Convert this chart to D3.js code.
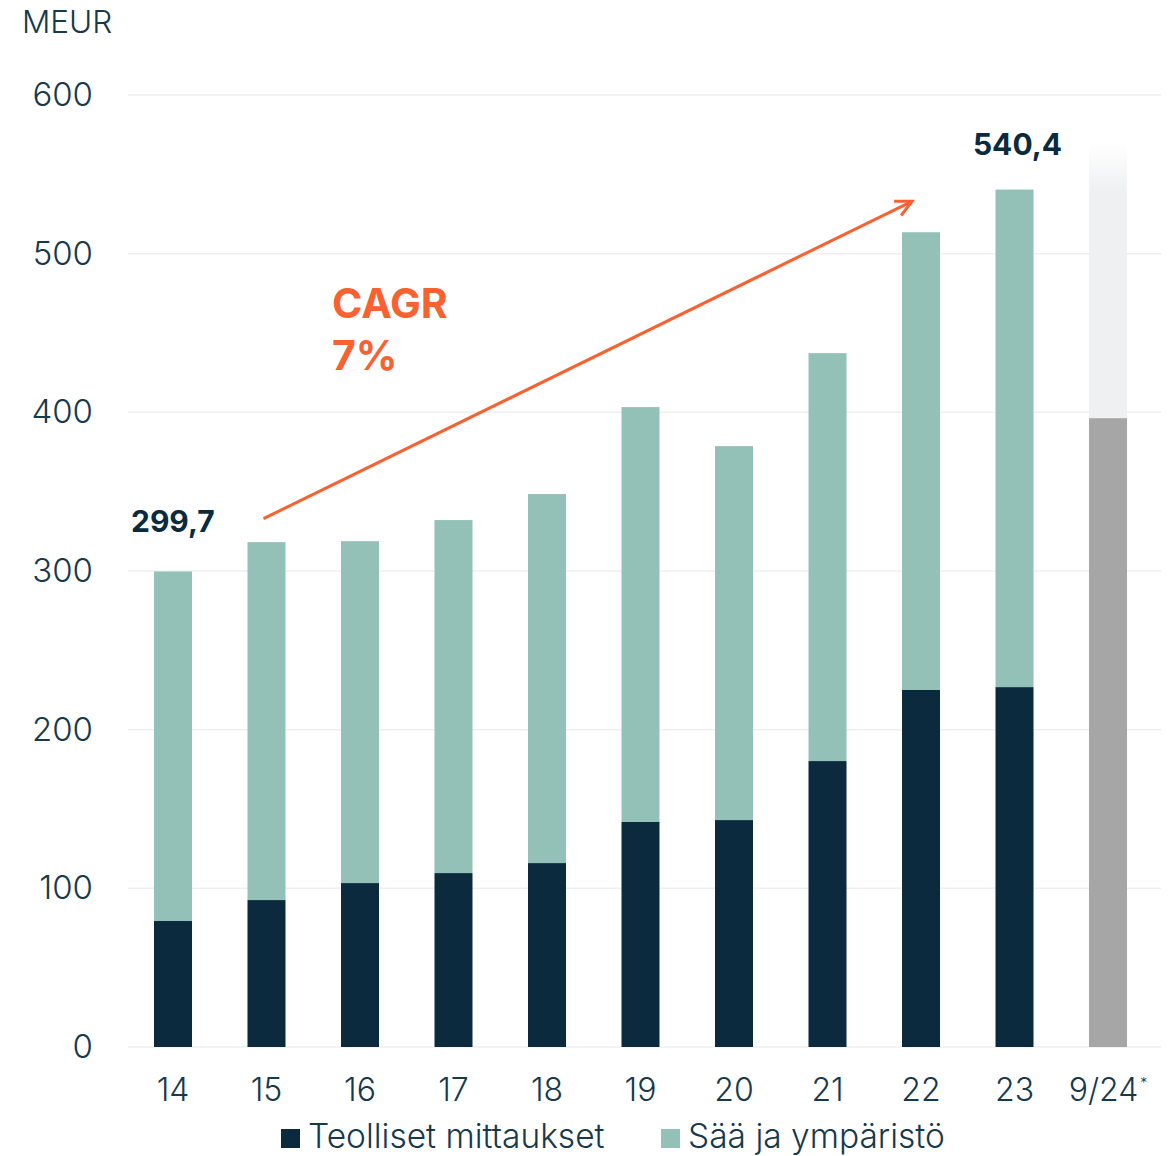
<!DOCTYPE html>
<html>
<head>
<meta charset="utf-8">
<script src="https://cdn.jsdelivr.net/npm/d3@7"></script>
<style>
  body { margin: 0; background: #fff; }
  text { font-family: Inter, "Noto Sans", sans-serif; }
</style>
</head>
<body>
<div id="chart"></div>
<script>
// data
var years = ["14", "15", "16", "17", "18", "19", "20", "21", "22", "23", "9/24"];
var teolliset = [79.4, 92.6, 103.3, 109.6, 115.9, 141.8, 143.0, 180.2, 225.0, 226.8];
var totals = [299.7, 318.2, 318.8, 332.1, 348.5, 403.3, 378.7, 437.3, 513.5, 540.4];
var ytd = 396.3;          // 9/24 bar
var ytdShadow = 570;      // faded outline behind 9/24
var yTicks = [0, 100, 200, 300, 400, 500, 600];
var legendNames = ["Teolliset mittaukset", "Sää ja ympäristö"];

var svgWidth = 1173;
var svgHeight = 1156;
var margin = { top: 95, right: 18, bottom: 109, left: 128 };
var width = svgWidth - margin.left - margin.right;
var height = svgHeight - margin.top - margin.bottom;

var dark = "#0b2a3d", teal = "#93c1b8", grey = "#a6a6a6", orange = "#fa6131";

var svg = d3.select("#chart").append("svg")
  .attr("width", svgWidth)
  .attr("height", svgHeight);

var defs = svg.append("defs");
var grad = defs.append("linearGradient").attr("id", "fade")
  .attr("x1", 0).attr("y1", 0).attr("x2", 0).attr("y2", 1);
grad.append("stop").attr("offset", "0%").attr("stop-color", "#eff0f2").attr("stop-opacity", 0);
grad.append("stop").attr("offset", "18%").attr("stop-color", "#eff0f2").attr("stop-opacity", 1);
grad.append("stop").attr("offset", "100%").attr("stop-color", "#eff0f2").attr("stop-opacity", 1);

var chart = svg.append("g")
  .attr("transform", `translate(${margin.left}, ${margin.top})`);

var x = d3.scaleBand().domain(years).range([0, 1025]).paddingInner(0.5936).paddingOuter(0.278);
var y = d3.scaleLinear().domain([0, 600]).range([height, 0]);

// gridlines
chart.append("g").selectAll("line")
  .data(yTicks).enter().append("line")
  .attr("x1", 0).attr("x2", width + 6)
  .attr("y1", d => y(d)).attr("y2", d => y(d))
  .attr("stroke", "#efefef").attr("stroke-width", 1.5);

// y axis
var leftAxis = d3.axisLeft(y).tickValues(yTicks).tickSize(0).tickPadding(35);
var ya = chart.append("g").call(leftAxis);
ya.select(".domain").remove();
ya.selectAll("text").attr("font-size", 33).attr("font-weight", 300).attr("fill", "#16394b")
  .style("font-family", "Inter, sans-serif");

chart.append("text")
  .attr("x", 22 - margin.left).attr("y", 33 - margin.top)
  .attr("font-size", 31.5).attr("font-weight", 300).attr("fill", "#16394b")
  .text("MEUR");

// x axis
var bottomAxis = d3.axisBottom(x).tickSize(0).tickPadding(31);
var xa = chart.append("g").attr("transform", `translate(0, ${height})`).call(bottomAxis);
xa.select(".domain").remove();
xa.selectAll("text").attr("font-size", 32).attr("font-weight", 300).attr("fill", "#16394b")
  .style("font-family", "Inter, sans-serif");
xa.selectAll(".tick").filter(d => d === "9/24").select("text")
  .append("tspan").attr("font-size", 14).attr("dy", "-0.9em").attr("dx", 2).text("*");

var bw = x.bandwidth();
var years10 = years.slice(0, 10);

// bars
chart.append("g").selectAll("rect")
  .data(years10).enter().append("rect")
  .attr("x", d => x(d)).attr("width", bw)
  .attr("y", (d, i) => y(totals[i]))
  .attr("height", (d, i) => y(teolliset[i]) - y(totals[i]))
  .attr("fill", teal);

chart.append("g").selectAll("rect")
  .data(years10).enter().append("rect")
  .attr("x", d => x(d)).attr("width", bw)
  .attr("y", (d, i) => y(teolliset[i]))
  .attr("height", (d, i) => y(0) - y(teolliset[i]))
  .attr("fill", dark);

chart.append("rect")
  .attr("x", x("9/24")).attr("width", bw)
  .attr("y", y(ytdShadow)).attr("height", y(ytd) - y(ytdShadow))
  .attr("fill", "url(#fade)");
chart.append("rect")
  .attr("x", x("9/24")).attr("width", bw)
  .attr("y", y(ytd)).attr("height", y(0) - y(ytd))
  .attr("fill", grey);

// value labels
chart.append("text")
  .attr("x", x("14") - 23).attr("y", y(totals[0]) - 39)
  .attr("font-size", 30).attr("font-weight", 700).attr("fill", dark)
  .text("299,7");
chart.append("text")
  .attr("x", x("23") + bw / 2 + 3).attr("y", y(totals[9]) - 35)
  .attr("text-anchor", "middle")
  .attr("font-size", 30).attr("font-weight", 700).attr("fill", dark)
  .text("540,4");

// CAGR arrow
var ax1 = x("15") + bw / 2 - 3, ay1 = y(333), ax2 = x("22") + bw / 2 - 9, ay2 = y(533);
chart.append("line")
  .attr("x1", ax1).attr("y1", ay1)
  .attr("x2", ax2).attr("y2", ay2)
  .attr("stroke", orange).attr("stroke-width", 3);
chart.append("path")
  .attr("d", "M-16,-8 L0,0 L-16,8")
  .attr("fill", "none").attr("stroke", orange).attr("stroke-width", 3)
  .attr("transform", `translate(${ax2},${ay2}) rotate(${Math.atan2(ay2 - ay1, ax2 - ax1) * 180 / Math.PI})`);

chart.append("text")
  .attr("x", 332 - margin.left).attr("y", 318 - margin.top)
  .attr("font-size", 41).attr("font-weight", 700).attr("fill", orange)
  .text("CAGR");
chart.append("text")
  .attr("x", 332 - margin.left).attr("y", 370 - margin.top)
  .attr("font-size", 41).attr("font-weight", 700).attr("fill", orange)
  .text("7%");

// legend
var legend = svg.append("g");
var legX = [281, 661];
var legColors = [dark, teal];
legendNames.forEach(function(name, i) {
  legend.append("rect").attr("x", legX[i]).attr("y", 1129).attr("width", 19).attr("height", 19)
    .attr("fill", legColors[i]);
  legend.append("text").attr("x", legX[i] + 27).attr("y", 1148)
    .attr("font-size", 33.5).attr("font-weight", 300).attr("fill", "#16394b")
    .text(name);
});
</script>
</body>
</html>
